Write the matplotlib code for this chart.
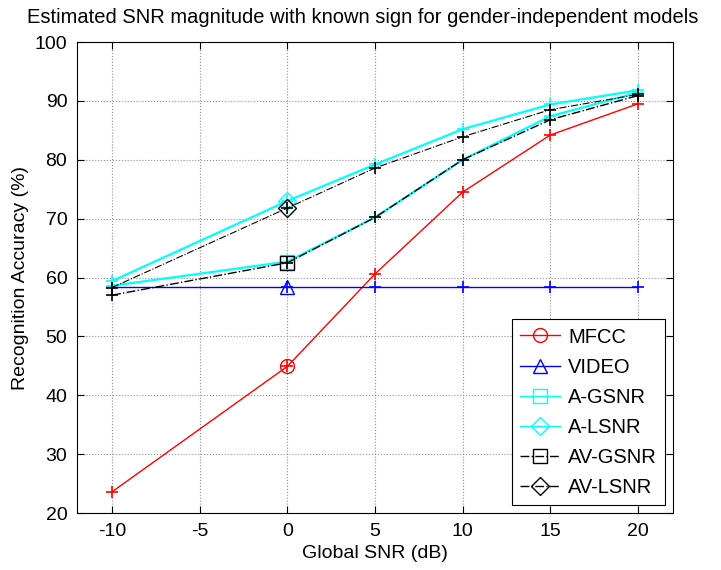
import numpy as np
import matplotlib
matplotlib.use("Agg")
import matplotlib.pyplot as plt
from matplotlib.lines import Line2D

plt.rcParams['font.family'] = ['Liberation Sans', 'DejaVu Sans']
plt.rcParams['axes.unicode_minus'] = False

snr = [-10, 0, 5, 10, 15, 20]
mfcc = [23.6, 44.9, 60.6, 74.5, 84.2, 89.5]
video = [58.4, 58.4, 58.4, 58.4, 58.4, 58.4]
a_gsnr = [58.6, 62.7, 70.2, 80.0, 87.4, 91.4]
a_lsnr = [59.4, 73.0, 79.2, 85.2, 89.4, 91.8]
av_gsnr = [57.0, 62.5, 70.2, 80.0, 86.8, 90.9]
av_lsnr = [58.3, 71.8, 78.6, 83.9, 88.5, 91.1]

cyan = '#00ffff'
series = [
    ("MFCC", mfcc, 'r', '-', 'o', 1.0),
    ("VIDEO", video, 'b', '-', '^', 1.0),
    ("A-GSNR", a_gsnr, cyan, '-', 's', 1.6),
    ("A-LSNR", a_lsnr, cyan, '-', 'D', 1.6),
    ("AV-GSNR", av_gsnr, 'k', '-.', 's', 1.0),
    ("AV-LSNR", av_lsnr, 'k', '-.', 'D', 0.8),
]

fig = plt.figure(figsize=(7.21, 5.70), dpi=100)
ax = fig.add_axes([0.1068, 0.1, 0.8266, 0.8263])

handles = []
i0 = snr.index(0)
for name, vals, col, ls, mk, lw in series:
    ax.plot(snr, vals, color=col, linestyle=ls, linewidth=lw, marker='+',
            markersize=8, markeredgewidth=1.2)
    msz = 10 if mk != 'D' else 9
    ax.plot([snr[i0]], [vals[i0]], linestyle='none', marker=mk, markersize=msz,
            markerfacecolor='none', markeredgecolor=col, markeredgewidth=1.0)
    handles.append(Line2D([], [], color=col, linestyle=ls, linewidth=1.0,
                          marker=mk, markersize=msz, markerfacecolor='none',
                          markeredgecolor=col, markeredgewidth=1.0, label=name))

ax.set_xlim(-12, 22)
ax.set_ylim(20, 100)
ax.set_xticks([-10, -5, 0, 5, 10, 15, 20])
ax.set_yticks(np.arange(20, 101, 10))
ax.grid(True, linestyle=':', color='#909090', linewidth=0.8)
ax.tick_params(direction='in', top=True, right=True, length=5, labelsize=14, pad=7)
for s in ax.spines.values():
    s.set_linewidth(0.8)

ax.set_title("Estimated SNR magnitude with known sign for gender-independent models",
             fontsize=14.5, pad=14, x=0.48)
ax.set_xlabel("Global SNR (dB)", fontsize=14, labelpad=4)
ax.set_ylabel("Recognition Accuracy (%)", fontsize=14, labelpad=4)

leg = ax.legend(handles=handles, loc='lower right', fontsize=14.5, fancybox=False,
                edgecolor='k', framealpha=1, borderaxespad=0.4, labelspacing=0.55,
                handlelength=2.0, handletextpad=0.4, borderpad=0.4)
leg.get_frame().set_linewidth(0.8)

fig.savefig("out.png", dpi=100)
